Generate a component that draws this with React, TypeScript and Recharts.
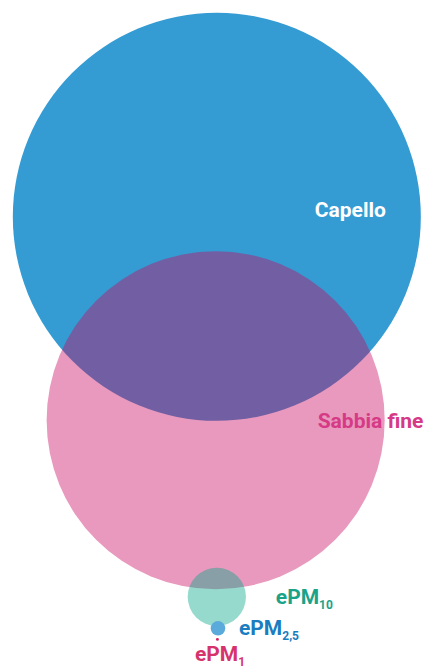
import { ScatterChart, Scatter, XAxis, YAxis, ZAxis } from "recharts";

// diametri in µm, posizioni in µm sul "foglio"
const names = ["Capello", "Sabbia fine", "ePM10", "ePM2,5", "ePM1"];
const diameters = [70, 58, 10, 2.5, 0.5];
const xPos = [37.2, 37.0, 37.2, 37.4, 37.3];
const yPos = [37.2, 72.1, 102.4, 107.8, 109.7];

const WIDTH = 425;
const HEIGHT = 666;
const PX_PER_UM = 408 / 70;
const MAX_D = 70;

const data = names.map((name, i) => ({
	name,
	x: xPos[i],
	y: yPos[i],
	z: diameters[i] * diameters[i],
}));

const styles: Record<
	string,
	{ fill: string; opacity: number; color: string; main: string; sub?: string; dx: number; dy: number }
> = {
	Capello: { fill: "#349bd3", opacity: 1, color: "#ffffff", main: "Capello", dx: 98, dy: 0 },
	"Sabbia fine": { fill: "#c80c62", opacity: 0.42, color: "#d63a86", main: "Sabbia fine", dx: 102, dy: 7.5 },
	ePM10: { fill: "#05a788", opacity: 0.42, color: "#1ba38a", main: "ePM", sub: "10", dx: 59, dy: 7.5 },
	"ePM2,5": { fill: "#5aaadc", opacity: 1, color: "#1a7dc0", main: "ePM", sub: "2,5", dx: 21, dy: 6.5 },
	ePM1: { fill: "#d6245e", opacity: 1, color: "#d6336c", main: "ePM", sub: "1", dx: -22.5, dy: 22 },
};

function Bubble(props: any) {
	const { cx, cy, width, payload } = props;
	const s = styles[payload.name];
	const r = width / 2;
	return (
		<g>
			<circle cx={cx} cy={cy} r={r} fill={s.fill} fillOpacity={s.opacity} />
			<text
				x={cx + s.dx}
				y={cy + s.dy}
				fill={s.color}
				fontFamily="Roboto"
				fontWeight={700}
				fontSize={21}
			>
				{s.main}
				{s.sub && (
					<tspan fontSize={12} dy={5}>
						{s.sub}
					</tspan>
				)}
			</text>
		</g>
	);
}

export default function App() {
	return (
		<div style={{ position: "absolute", left: 0, top: 0, background: "#fff" }}>
			<ScatterChart width={WIDTH} height={HEIGHT} margin={{ top: 0, right: 0, bottom: 0, left: 0 }}>
				<XAxis type="number" dataKey="x" domain={[0, WIDTH / PX_PER_UM]} hide />
				<YAxis type="number" dataKey="y" domain={[0, HEIGHT / PX_PER_UM]} reversed hide />
				<ZAxis
					type="number"
					dataKey="z"
					domain={[0, MAX_D * MAX_D]}
					range={[0, Math.PI * Math.pow((MAX_D * PX_PER_UM) / 2, 2)]}
				/>
				<Scatter data={data} shape={Bubble} isAnimationActive={false} />
			</ScatterChart>
		</div>
	);
}
